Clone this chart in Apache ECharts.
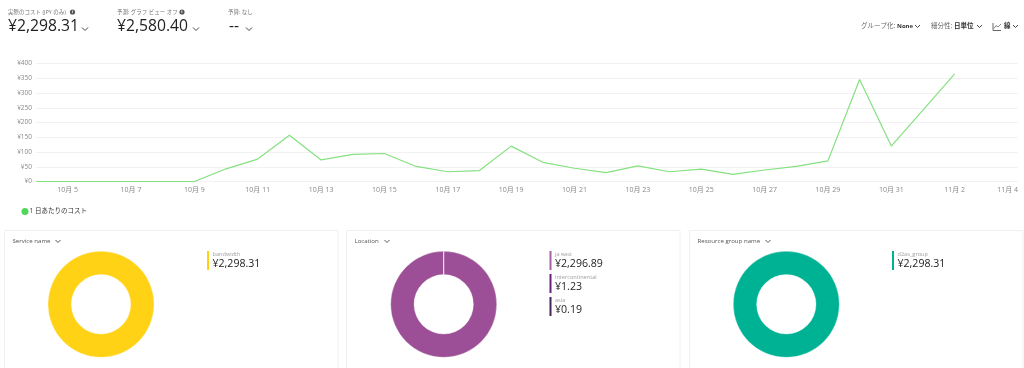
<!DOCTYPE html>
<html>
<head>
<meta charset="utf-8">
<title>コスト分析</title>
<script src="https://cdn.jsdelivr.net/npm/echarts@6/dist/echarts.min.js"></script>
<style>
  html, body { margin: 0; padding: 0; background: #fff; overflow: hidden; }
  #chart { width: 1024px; height: 368px; }
</style>
</head>
<body>
<div id="chart"></div>
<script>
const days = ['10月 4', '10月 5', '10月 6', '10月 7', '10月 8', '10月 9', '10月 10', '10月 11', '10月 12',
  '10月 13', '10月 14', '10月 15', '10月 16', '10月 17', '10月 18', '10月 19', '10月 20', '10月 21',
  '10月 22', '10月 23', '10月 24', '10月 25', '10月 26', '10月 27', '10月 28', '10月 29', '10月 30',
  '10月 31', '11月 1', '11月 2', '11月 3', '11月 4'];
const dailyCost = [0, 0, 0, 0, 0, 0, 43, 76, 157, 73, 92, 95, 51, 33, 37, 120, 65, 45, 30, 53, 33, 42, 24,
  39, 51, 70, 346, 120, 242, 365, null, null];

const serviceNames = ['bandwidth'];
const serviceCosts = [2298.31];
const serviceColors = ['#ffd216'];

const locationNames = ['ja east', 'intercontinental', 'asia'];
const locationCosts = [2296.89, 1.23, 0.19];
const locationColors = ['#9c4f96', '#68217a', '#442359'];
const locationBars = ['#a75fa6', '#68217a', '#442359'];

const groupNames = ['d2as_group'];
const groupCosts = [2298.31];
const groupColors = ['#00b294'];

const FONT = '"Open Sans", "Noto Sans CJK JP", sans-serif';

function text(x, y, str, size, color, weight) {
  return {
    type: 'text', x: x, y: y, silent: true,
    style: {
      text: str, fontFamily: FONT, fontSize: size, fill: color,
      fontWeight: weight || 'normal', textVerticalAlign: 'middle'
    }
  };
}

function chevron(x, y, w, h, color) {
  return {
    type: 'polyline', silent: true,
    shape: { points: [[x, y], [x + w / 2, y + h], [x + w, y]] },
    style: { stroke: color, lineWidth: 1, fill: null }
  };
}

function infoDot(x, y) {
  return [
    { type: 'circle', silent: true, shape: { cx: x, cy: y, r: 2.6 }, style: { fill: '#555' } },
    text(x - 0.7, y, 'i', 4, '#fff', 'bold')
  ];
}

function card(x, title, chevronX) {
  return [
    { type: 'rect', silent: true, shape: { x: x, y: 230.5, width: 333.5, height: 150 },
      style: { fill: null, stroke: '#f0f0f0', lineWidth: 1 } },
    text(x + 8, 241.5, title, 6.1, '#555'),
    chevron(chevronX, 240, 5, 2.5, '#555')
  ];
}

function legendItems(x, names, costs, colors) {
  const out = [];
  names.forEach((name, i) => {
    const top = 251 + i * 23;
    out.push({ type: 'rect', silent: true, shape: { x: x, y: top, width: 2, height: 19 }, style: { fill: colors[i] } });
    out.push(text(x + 5.5, top + 3.5, name, 5.6, '#a0a0a0'));
    out.push(text(x + 5.5, top + 13, '¥' + costs[i].toLocaleString('en-US', { minimumFractionDigits: 2 }), 10.6, '#222'));
  });
  return out;
}

function donut(cx, names, costs, colors) {
  return {
    type: 'pie',
    silent: true,
    animation: false,
    center: [cx, 304.3],
    radius: [29.7, 53],
    startAngle: 90,
    label: { show: false },
    labelLine: { show: false },
    itemStyle: { borderColor: '#fff', borderWidth: 0.3 },
    data: names.map((name, i) => ({ name: name, value: costs[i], itemStyle: { color: colors[i] } }))
  };
}

const graphicElements = [
  text(8, 12, '実際のコスト (JPY のみ)', 5.5, '#777'),
  ...infoDot(72.5, 12),
  text(8, 26.5, '¥2,298.31', 15.7, '#222'),
  chevron(82, 27.5, 6, 3, '#444'),

  text(117, 12, '予測: グラフ ビュー オフ', 5.5, '#777'),
  ...infoDot(182, 12),
  text(117, 26.5, '¥2,580.40', 15.7, '#222'),
  chevron(193, 27.5, 6, 3, '#444'),

  text(228, 12, '予算: なし', 5.5, '#777'),
  text(229, 26.5, '--', 15.7, '#222'),
  chevron(246, 27.5, 6, 3, '#444'),

  text(861, 26.5, 'グループ化:', 6.5, '#666'),
  text(897, 26.5, 'None', 6, '#333', 'bold'),
  chevron(915, 25, 5, 2.5, '#444'),
  text(931, 26.5, '細分性:', 6.5, '#666'),
  text(954, 26.5, '日単位', 6.5, '#333', 'bold'),
  chevron(977, 25, 5, 2.5, '#444'),
  { type: 'polyline', silent: true,
    shape: { points: [[993, 23], [993, 30.5], [1001, 30.5]] },
    style: { stroke: '#666', lineWidth: 1, fill: null } },
  { type: 'polyline', silent: true,
    shape: { points: [[994, 28.5], [996, 25.5], [998, 27], [1001, 24]] },
    style: { stroke: '#888', lineWidth: 1, fill: null } },
  text(1004, 26.5, '線', 6.5, '#333', 'bold'),
  chevron(1013, 25, 5, 2.5, '#444'),

  ...card(4.5, 'Service name', 55.5),
  ...legendItems(207, serviceNames, serviceCosts, serviceColors),
  ...card(346.5, 'Location', 384.5),
  ...legendItems(549.5, locationNames, locationCosts, locationBars),
  ...card(689.5, 'Resource group name', 765.5),
  ...legendItems(892, groupNames, groupCosts, groupColors)
];

const chart = echarts.init(document.getElementById('chart'), null, { renderer: 'canvas' });
chart.setOption({
  animation: false,
  textStyle: { fontFamily: FONT },
  grid: { left: 36, right: 6, top: 63.5, height: 118, outerBoundsMode: 'none' },
  legend: {
    left: 16.5, top: 203,
    icon: 'circle', itemWidth: 7, itemHeight: 7, itemGap: 0,
    textStyle: { fontSize: 6.5, color: '#333', fontFamily: FONT, padding: [0, 0, 0, -4] },
    data: ['1 日あたりのコスト']
  },
  xAxis: {
    type: 'category',
    data: days,
    boundaryGap: false,
    axisLine: { show: false },
    axisTick: { show: false },
    axisLabel: {
      fontSize: 7, color: '#888', margin: 5, hideOverlap: false,
      alignMaxLabel: 'right',
      interval: (index) => index % 2 === 1
    }
  },
  yAxis: {
    type: 'value', min: 0, max: 400, interval: 50,
    axisLine: { show: false },
    axisTick: { show: false },
    axisLabel: { fontSize: 6.5, color: '#888', margin: 4, formatter: '¥{value}' },
    splitLine: { lineStyle: { color: '#f2f2f2', width: 1 } }
  },
  series: [
    {
      name: '1 日あたりのコスト',
      type: 'line',
      data: dailyCost,
      showSymbol: false,
      silent: true,
      lineStyle: { color: '#85e080', width: 1.2 },
      itemStyle: { color: '#50d75a' }
    },
    donut(101, serviceNames, serviceCosts, serviceColors),
    donut(443.7, locationNames, locationCosts, locationColors),
    donut(786.3, groupNames, groupCosts, groupColors)
  ],
  graphic: { elements: graphicElements }
});
</script>
</body>
</html>
